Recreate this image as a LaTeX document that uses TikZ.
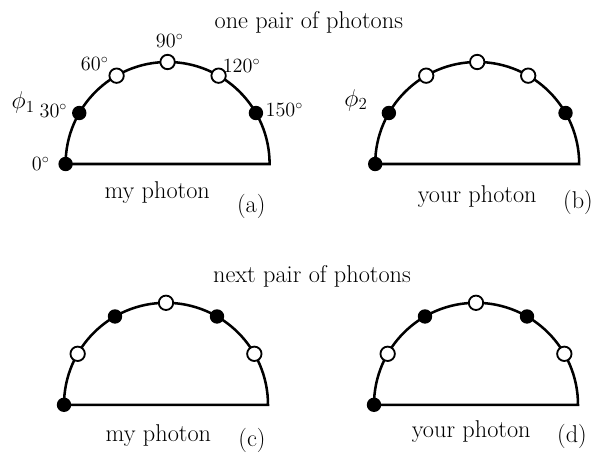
\documentclass[tikz,border=0pt]{standalone}
\usepackage{amsmath}
\usepackage{amssymb}
\usepackage{tikz}
\usetikzlibrary{positioning}
\usetikzlibrary{calc}

\tikzset{
    half/.style={line width=1.8pt},
    full/.style={fill=black},
    hollow/.style={fill=white, draw=black, line width=1.3pt},
}
\newcommand{\dotrad}{0.18}
\newcommand{\halfrad}{2.55}

\begin{document}
\begin{tikzpicture}
    \useasboundingbox (0,0) rectangle (15,11.45);

    \node (title1) at (7.72,10.88) {\LARGE one pair of photons};
    \node (title2) at (7.8,4.53)   {\LARGE next pair of photons};

    % (a)
    \begin{scope}[shift={(4.19,7.35)}]
    \draw[half] (180:\halfrad) arc (180:0:\halfrad) -- cycle;
    \foreach \a/\s in {0/full,30/full,60/hollow,90/hollow,120/hollow,150/full}
        \path[\s] (180-\a:\halfrad) circle (\dotrad);
    \foreach \a/\p/\r in {0/180/3.17,30/155/3.15,60/126/3.1,90/89/3.08,120/53/3.07,150/25/3.22}
        \node (deg\a) at (\p:\r) {\Large $\a^\circ$};
    \end{scope}
    \node (phi1) at (0.58,8.88) {\LARGE $\phi_1$};
    \node (mya)  at (3.93,6.63) {\LARGE my photon};
    \node (capa) at (6.28,6.3)  {\LARGE (a)};

    % (b)
    \begin{scope}[shift={(11.93,7.35)}]
    \draw[half] (180:\halfrad) arc (180:0:\halfrad) -- cycle;
    \foreach \a/\s in {0/full,30/full,60/hollow,90/hollow,120/hollow,150/full}
        \path[\s] (180-\a:\halfrad) circle (\dotrad);
    \end{scope}
    \node (phi2)  at (8.9,8.95)   {\LARGE $\phi_2$};
    \node (yourb) at (11.93,6.53) {\LARGE your photon};
    \node (capb)  at (14.45,6.4)  {\LARGE (b)};

    % (c)
    \begin{scope}[shift={(4.15,1.33)}]
    \draw[half] (180:\halfrad) arc (180:0:\halfrad) -- cycle;
    \foreach \a/\s in {0/full,30/hollow,60/full,90/hollow,120/full,150/hollow}
        \path[\s] (180-\a:\halfrad) circle (\dotrad);
    \end{scope}
    \node (myc)  at (3.96,0.55) {\LARGE my photon};
    \node (capc) at (6.3,0.43)  {\LARGE (c)};

    % (d)
    \begin{scope}[shift={(11.9,1.33)}]
    \draw[half] (180:\halfrad) arc (180:0:\halfrad) -- cycle;
    \foreach \a/\s in {0/full,30/hollow,60/full,90/hollow,120/full,150/hollow}
        \path[\s] (180-\a:\halfrad) circle (\dotrad);
    \end{scope}
    \node (yourd) at (11.78,0.65) {\LARGE your photon};
    \node (capd)  at (14.3,0.55)  {\LARGE (d)};

\end{tikzpicture}
\end{document}
